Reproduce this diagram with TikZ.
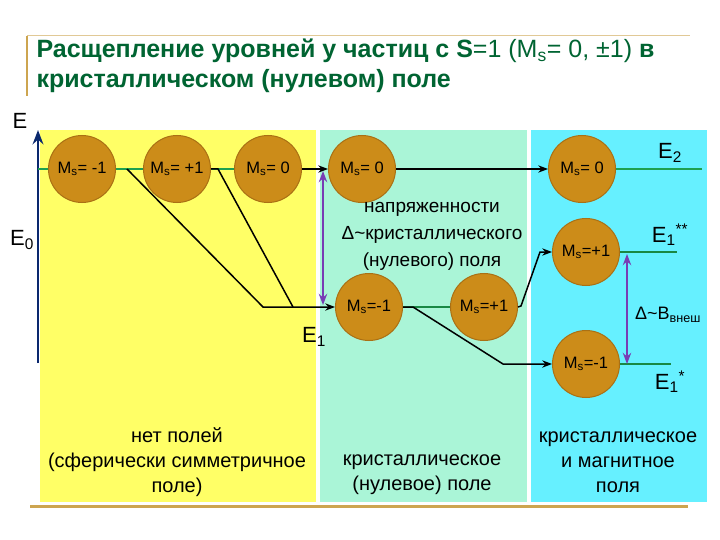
\documentclass[tikz,border=0pt]{standalone}
\usepackage{fontspec}
\setmainfont{Liberation Sans}
\usepackage{xcolor}
\usepackage{tikz}
\usetikzlibrary{arrows.meta, positioning}
\definecolor{fieldyellow}{RGB}{255,255,102}
\definecolor{fieldmint}{RGB}{170,245,215}
\definecolor{fieldcyan}{RGB}{102,240,255}
\definecolor{orbfill}{RGB}{204,140,25}
\definecolor{orbedge}{RGB}{170,112,20}
\definecolor{titlegreen}{RGB}{0,100,50}
\definecolor{goldline}{RGB}{205,165,80}
\definecolor{levelgreen}{RGB}{30,160,80}
\definecolor{axisblue}{RGB}{10,40,110}
\definecolor{splitpurple}{RGB}{120,60,180}

\begin{document}
\begin{tikzpicture}[x=1pt, y=-1pt,
    orb/.style={circle, draw=orbedge, fill=orbfill, line width=1pt, minimum size=67pt, inner sep=0pt, font=\fontsize{16.5}{18}\selectfont},
    level/.style={draw=levelgreen, line width=1.2pt},
    thicklevel/.style={draw=levelgreen!85!black, line width=2.5pt},
    arrow/.style={-Stealth, line width=1.5pt},
    gap/.style={Stealth-Stealth, draw=splitpurple, line width=1.8pt},
    caption/.style={align=center, font=\fontsize{20}{25}\selectfont},
    elabel/.style={font=\fontsize{22}{24}\selectfont}
]
\useasboundingbox (0,0) rectangle (720,540);

\draw[goldline!60, line width=1pt] (27,36) -- (690,36);
\draw[goldline, line width=2pt] (27,36) -- (27,96);
\node[anchor=west, text=titlegreen, font=\fontsize{25}{30}\selectfont] (title1) at (33,51) {\textbf{Расщепление уровней у частиц с S}=1 (M\textsubscript{s}= 0, ±1) \textbf{в}};
\node[anchor=west, text=titlegreen, font=\fontsize{25}{30}\selectfont\bfseries] (title2) at (33,81) {кристаллическом (нулевом) поле};

\fill[fieldyellow] (40,130) rectangle (316,502);
\fill[fieldmint] (320,130) rectangle (527,502);
\fill[fieldcyan] (531,130) rectangle (707,502);
\draw[goldline, line width=3pt] (30,506) -- (688,506);

\coordinate (axbot) at (38,363);
\coordinate (axtop) at (38,130);
\draw[-Stealth, axisblue, line width=2.5pt] (axbot) -- (axtop);

\node[orb] (a1) at (82,169) {M\textsubscript{s}= -1};
\node[orb] (a2) at (177,169) {M\textsubscript{s}= +1};
\node[orb] (a3) at (268,169) {M\textsubscript{s}= 0};
\node[orb] (b0) at (362,169) {M\textsubscript{s}= 0};
\node[orb] (b1) at (369,307) {M\textsubscript{s}=-1};
\node[orb] (b2) at (484,307) {M\textsubscript{s}=+1};
\node[orb] (c0) at (582,169) {M\textsubscript{s}= 0};
\node[orb] (c1) at (586,252) {M\textsubscript{s}=+1};
\node[orb] (c2) at (586,364) {M\textsubscript{s}=-1};

\coordinate (e0) at (38,169);
\coordinate (k1) at (127,169);
\coordinate (k2) at (263,307);
\coordinate (k3) at (218,169);
\coordinate (k4) at (293,307);
\coordinate (k5) at (413,307);
\coordinate (k6) at (503,364);
\coordinate (k7) at (521,306);
\coordinate (k8) at (540,252);
\coordinate (e2end) at (702,169);
\coordinate (e1up) at (677,252);
\coordinate (e1down) at (671,364);

\draw[level] (e0) -- (a1);
\draw[level] (a1) -- (a2);
\draw[level] (a2) -- (a3);
\draw[arrow] (k1) -- (k2) -- (b1);
\draw[line width=1.5pt] (a2.east) -- (k3) -- (k4);
\draw[arrow] (a3) -- (b0);
\draw[arrow] (b0) -- (c0);
\draw[thicklevel] (b1) -- (b2);
\draw[arrow] (b1.east) -- (k5) -- (k6) -- (c2);
\draw[arrow] (b2.east) -- (k7) -- (k8) -- (c1);
\draw[level] (c0) -- (e2end);
\draw[thicklevel] (c1) -- (e1up);
\draw[thicklevel] (c2) -- (e1down);

\coordinate (g1) at (323,171);
\coordinate (g2) at (323,305);
\coordinate (g3) at (627,254);
\coordinate (g4) at (627,364);
\draw[gap] (g1) -- (g2);
\draw[gap] (g3) -- (g4);

\node[elabel] (E) at (20,121) {E};
\node[elabel] (E0) at (22,240) {E\textsubscript{0}};
\node[elabel] (E1) at (314,337) {E\textsubscript{1}};
\node[elabel] (E2) at (670,153) {E\textsubscript{2}};
\node[elabel] (E1pp) at (670,235) {E\textsubscript{1}\textsuperscript{**}};
\node[elabel] (E1p) at (670,382) {E\textsubscript{1}\textsuperscript{*}};

\node[align=center, font=\fontsize{19}{27}\selectfont] (crys) at (432,236) {напряженности\\Δ\textasciitilde кристаллического\\(нулевого) поля};
\node[font=\fontsize{18}{20}\selectfont] (magn) at (668,315) {Δ\textasciitilde B\textsubscript{внеш}};

\node[caption] (cap1) at (177,462) {нет полей\\(сферически симметричное\\поле)};
\node[caption] (cap2) at (422,475) {кристаллическое\\(нулевое) поле};
\node[caption] (cap3) at (618,462) {кристаллическое\\и магнитное\\поля};
\end{tikzpicture}
\end{document}
